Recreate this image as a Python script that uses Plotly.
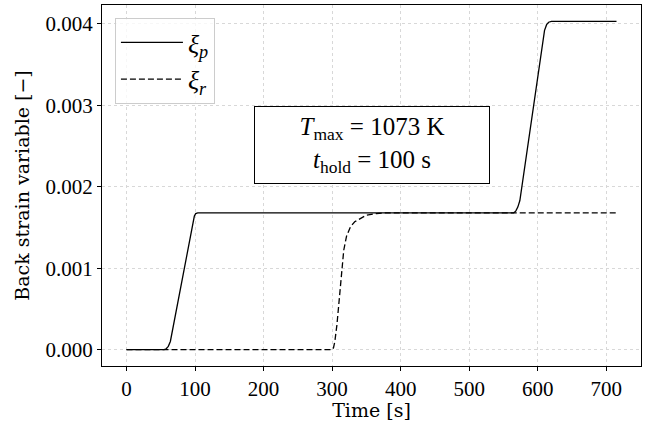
import plotly.graph_objects as go

# xi_p (back strain, plastic)
time_p = [0, 55, 58, 61, 64, 97, 99, 101, 104, 110, 565, 568, 571, 574, 610, 613, 616, 620, 715]
xi_p = [0.0, 0.0, 0.00001, 0.00004, 0.0001, 0.00158, 0.00164, 0.00167, 0.001678, 0.00168,
        0.00168, 0.00170, 0.00175, 0.00183, 0.00392, 0.00399, 0.00402, 0.00403, 0.00403]

# xi_r (back strain, recovery)
time_r = [0, 300, 302, 304, 307, 310.5, 314, 317, 321, 327, 333, 341, 350, 365, 380, 715]
xi_r = [0.0, 0.0, 0.00002, 0.0001, 0.0003, 0.00061, 0.00100, 0.00122, 0.00139, 0.00151,
        0.00157, 0.00161, 0.00165, 0.00167, 0.00168, 0.00168]

x_ticks = [0, 100, 200, 300, 400, 500, 600, 700]
y_ticks = [0.000, 0.001, 0.002, 0.003, 0.004]
y_tick_labels = ["0.000", "0.001", "0.002", "0.003", "0.004"]

FONT = "'Liberation Serif', 'Times New Roman', serif"
TITLE_FONT = "'DejaVu Serif', serif"

fig = go.Figure()
fig.add_trace(go.Scatter(x=time_p, y=xi_p, mode="lines",
                         name="<i>ξ</i><sub><i>p</i></sub>",
                         line=dict(color="black", width=1.3)))
fig.add_trace(go.Scatter(x=time_r, y=xi_r, mode="lines",
                         name="<i>ξ</i><sub><i>r</i></sub>",
                         line=dict(color="black", width=1.3, dash="6px,3px")))

axis_common = dict(
    showline=True, linecolor="black", linewidth=1, mirror=True,
    ticks="outside", ticklen=4, tickcolor="black",
    showgrid=True, gridcolor="#d8d8d8", griddash="dot", gridwidth=1,
    zeroline=False, automargin=False,
    tickfont=dict(family=FONT, size=21, color="black"),
)

fig.update_xaxes(range=[-35.75, 750.75], tickvals=x_ticks,
                 title=dict(text="Time [s]", font=dict(family=TITLE_FONT, size=19, color="black"), standoff=0),
                 **axis_common)
fig.update_yaxes(range=[-0.0002015, 0.0042315], tickvals=y_ticks, ticktext=y_tick_labels,
                 title=dict(text="Back strain variable [−]", font=dict(family=TITLE_FONT, size=19, color="black"), standoff=10),
                 **axis_common)

fig.add_annotation(
    xref="paper", yref="paper", x=0.5, y=0.612, xanchor="center", yanchor="middle",
    text="<i>T</i><sub>max</sub> = 1073 K<br><i>t</i><sub>hold</sub> = 100 s",
    showarrow=False, font=dict(family=FONT, size=25, color="black"),
    bordercolor="black", borderwidth=1, borderpad=6, bgcolor="white",
    width=222, align="center",
)

fig.update_layout(
    width=653, height=421,
    margin=dict(l=102, r=12, t=5, b=55),
    plot_bgcolor="white", paper_bgcolor="white",
    font=dict(family=FONT, color="black"),
    showlegend=True,
    legend=dict(x=0.024, y=0.964, xanchor="left", yanchor="top",
                bgcolor="rgba(255,255,255,0.8)", bordercolor="#cccccc", borderwidth=1,
                itemwidth=62,
                font=dict(family=FONT, size=26, color="black")),
)

fig.write_html("out.html", config={"displayModeBar": False},
               post_script="document.body.style.margin='0';")
